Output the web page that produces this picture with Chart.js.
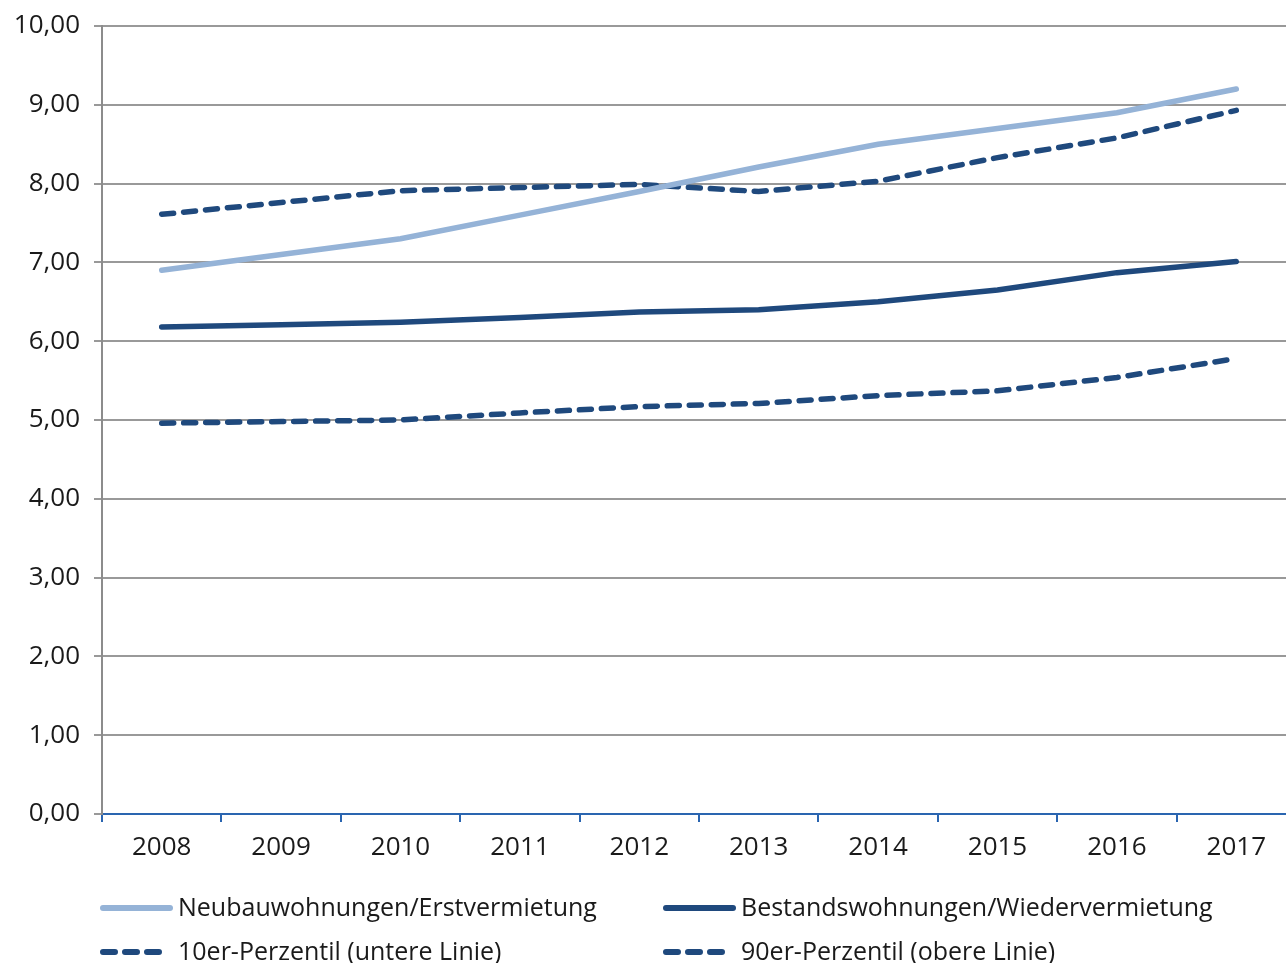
<!DOCTYPE html>
<html>
<head>
<meta charset="utf-8">
<script src="https://cdn.jsdelivr.net/npm/chart.js@4/dist/chart.umd.min.js"></script>
<style>
html,body{margin:0;padding:0;background:#fff;overflow:hidden;width:1286px;height:963px;}
canvas{display:block;}
</style>
</head>
<body>
<canvas id="c" width="1300" height="963"></canvas>
<script>
const years = ['2008','2009','2010','2011','2012','2013','2014','2015','2016','2017'];
const neubau = [6.90, 7.10, 7.30, 7.60, 7.90, 8.21, 8.50, 8.70, 8.90, 9.20];
const bestand = [6.18, 6.21, 6.24, 6.30, 6.37, 6.40, 6.50, 6.65, 6.87, 7.01];
const p10 = [4.96, 4.98, 5.00, 5.09, 5.17, 5.21, 5.31, 5.37, 5.54, 5.78];
const p90 = [7.61, 7.76, 7.91, 7.95, 7.99, 7.90, 8.03, 8.33, 8.58, 8.93];
const seriesNames = ['Neubauwohnungen/Erstvermietung','Bestandswohnungen/Wiedervermietung','10er-Perzentil (untere Linie)','90er-Perzentil (obere Linie)'];

const FONT = '"Open Sans", sans-serif';
const LIGHT = '#95b3d7';
const DARK = '#1f497d';

const legendPlugin = {
  id: 'customLegend',
  afterDraw(chart) {
    const ctx = chart.ctx;
    const items = [
      {ds: 0, x: 100, y: 908},
      {ds: 1, x: 663, y: 908},
      {ds: 2, x: 100, y: 952},
      {ds: 3, x: 663, y: 952}
    ];
    ctx.save();
    items.forEach(it => {
      const d = chart.data.datasets[it.ds];
      ctx.beginPath();
      ctx.strokeStyle = d.borderColor;
      ctx.lineWidth = 6;
      ctx.lineCap = 'round';
      if (d.borderDash && d.borderDash.length) {
        ctx.setLineDash([12, 10]);
        ctx.moveTo(it.x + 3, it.y);
        ctx.lineTo(it.x + 62, it.y);
      } else {
        ctx.setLineDash([]);
        ctx.moveTo(it.x + 3, it.y);
        ctx.lineTo(it.x + 70, it.y);
      }
      ctx.stroke();
      ctx.setLineDash([]);
      ctx.fillStyle = '#1a1a1a';
      ctx.font = '25px ' + FONT;
      ctx.textBaseline = 'middle';
      ctx.textAlign = 'left';
      ctx.fillText(d.label, it.x + 78, it.y + 1);
    });
    ctx.restore();
  }
};

new Chart(document.getElementById('c'), {
  type: 'line',
  data: {
    labels: years,
    datasets: [
      {label: seriesNames[0], data: neubau, borderColor: LIGHT, borderWidth: 5.5, borderCapStyle: 'round', pointRadius: 0, tension: 0, fill: false},
      {label: seriesNames[1], data: bestand, borderColor: DARK, borderWidth: 5.5, borderCapStyle: 'round', pointRadius: 0, tension: 0, fill: false},
      {label: seriesNames[2], data: p10, borderColor: DARK, borderWidth: 5.5, borderDash: [12, 10], borderCapStyle: 'round', pointRadius: 0, tension: 0, fill: false},
      {label: seriesNames[3], data: p90, borderColor: DARK, borderWidth: 5.5, borderDash: [12, 10], borderCapStyle: 'round', pointRadius: 0, tension: 0, fill: false}
    ]
  },
  options: {
    responsive: false,
    animation: false,
    layout: {padding: {top: 26, left: 0, right: 4, bottom: 89}},
    plugins: {legend: {display: false}, tooltip: {enabled: false}},
    scales: {
      x: {
        offset: true,
        grid: {offset: true, drawOnChartArea: false, drawTicks: true, tickLength: 8, color: '#2a65b0', lineWidth: 2},
        border: {color: '#2a65b0', width: 2},
        ticks: {color: '#1a1a1a', font: {family: FONT, size: 26}, padding: 10, maxRotation: 0},
        afterFit(s) { s.height = 60; s.paddingLeft = 0; s.paddingRight = 0; }
      },
      y: {
        min: 0, max: 10,
        ticks: {stepSize: 1, color: '#1a1a1a', font: {family: FONT, size: 26}, padding: 14,
          callback: v => v.toFixed(2).replace('.', ',')},
        grid: {color: '#999999', lineWidth: 2, tickLength: 8},
        border: {color: '#8c8c8c', width: 2},
        afterFit(s) { s.width = 102; s.paddingTop = 0; s.paddingBottom = 0; }
      }
    }
  },
  plugins: [legendPlugin]
});
</script>
</body>
</html>
